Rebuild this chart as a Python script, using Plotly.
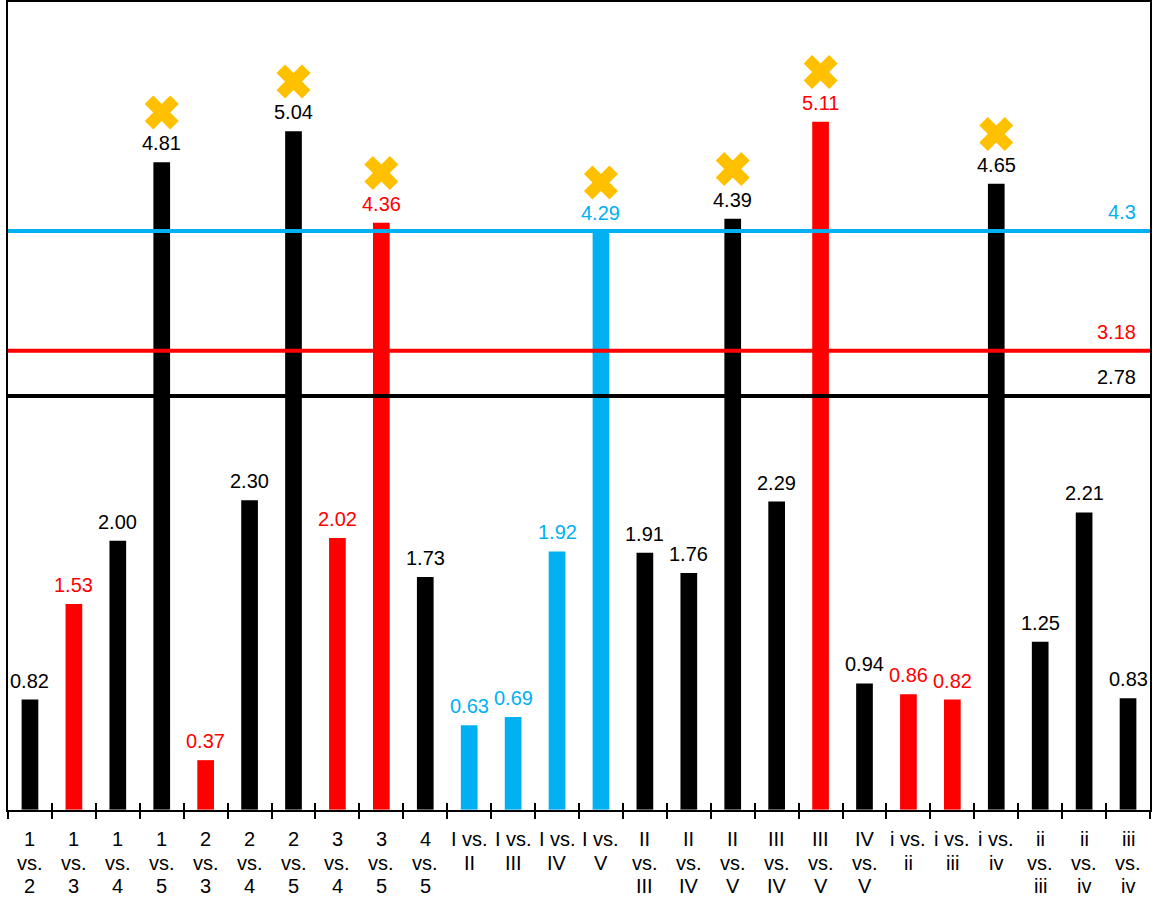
import plotly.graph_objects as go

categories = ["1<br>vs.<br>2", "1<br>vs.<br>3", "1<br>vs.<br>4", "1<br>vs.<br>5",
              "2<br>vs.<br>3", "2<br>vs.<br>4", "2<br>vs.<br>5", "3<br>vs.<br>4",
              "3<br>vs.<br>5", "4<br>vs.<br>5",
              "I vs.<br>II", "I vs.<br>III", "I vs.<br>IV", "I vs.<br>V",
              "II<br>vs.<br>III", "II<br>vs.<br>IV", "II<br>vs.<br>V", "III<br>vs.<br>IV",
              "III<br>vs.<br>V", "IV<br>vs.<br>V",
              "i vs.<br>ii", "i vs.<br>iii", "i vs.<br>iv",
              "ii<br>vs.<br>iii", "ii<br>vs.<br>iv", "iii<br>vs.<br>iv"]
values = [0.82, 1.53, 2.00, 4.81, 0.37, 2.30, 5.04, 2.02, 4.36, 1.73,
          0.63, 0.69, 1.92, 4.29,
          1.91, 1.76, 4.39, 2.29, 5.11, 0.94,
          0.86, 0.82, 4.65, 1.25, 2.21, 0.83]
groups = ["k", "r", "k", "k", "r", "k", "k", "r", "r", "k",
          "b", "b", "b", "b",
          "k", "k", "k", "k", "r", "k",
          "r", "r", "k", "k", "k", "k"]
flagged = [False, False, False, True, False, False, True, False, True, False,
           False, False, False, True,
           False, False, True, False, True, False,
           False, False, True, False, False, False]
threshold_labels = ["4.3", "3.18", "2.78"]
threshold_drawn_at = [4.30, 3.41, 3.075]
threshold_groups = ["b", "r", "k"]

palette = {"k": "#000000", "r": "#FF0000", "b": "#00B0F0"}
colors = [palette[g] for g in groups]
FONT = "Liberation Sans, Arial, sans-serif"

fig = go.Figure()
fig.add_trace(go.Bar(x=categories, y=values, marker=dict(color=colors, line=dict(width=0)),
                     width=0.38, showlegend=False, hoverinfo="x+y"))

fx = [c for c, f in zip(categories, flagged) if f]
fy = [v + 0.37 for v, f in zip(values, flagged) if f]
fig.add_trace(go.Scatter(x=fx, y=fy, mode="markers", showlegend=False,
                         marker=dict(symbol="x", size=30, color="#FFC000", line=dict(width=0))))

for c, v, col in zip(categories, values, colors):
    fig.add_annotation(x=c, y=v, text=f"{v:.2f}", showarrow=False, yanchor="bottom",
                       yshift=6, font=dict(size=20, color=col, family=FONT))

# category labels, one text row at a time (tight line spacing)
row_shift = [-29, -52.5, -76]
for c in categories:
    for i, part in enumerate(c.split("<br>")):
        fig.add_annotation(x=c, xref="x", y=0, yref="paper", text=part, showarrow=False,
                           yanchor="middle", yshift=row_shift[i],
                           font=dict(size=20, color="black", family=FONT))

for lab, yv, g in zip(threshold_labels, threshold_drawn_at, threshold_groups):
    fig.add_shape(type="line", xref="paper", x0=0, x1=1, yref="y", y0=yv, y1=yv,
                  line=dict(color=palette[g], width=4), layer="above")
    fig.add_annotation(xref="paper", x=0.9895, y=yv, text=lab, showarrow=False,
                       xanchor="right", yanchor="bottom", yshift=6,
                       font=dict(size=20, color=palette[g], family=FONT))

fig.update_layout(
    width=1153, height=902,
    margin=dict(l=8, r=3, t=2, b=92, autoexpand=False),
    plot_bgcolor="white", paper_bgcolor="white",
    barmode="overlay",
    font=dict(family=FONT, color="black"),
    xaxis=dict(type="category", showline=True, linecolor="black", linewidth=2, mirror=True,
               ticks="outside", ticklen=7, tickwidth=2, tickcolor="black", tickson="boundaries",
               tickangle=0, automargin=False, showticklabels=False,
               showgrid=False, zeroline=False),
    xaxis2=dict(type="category", overlaying="x", matches="x", anchor="y", side="bottom",
                showline=False, ticks="inside", ticklen=7, tickwidth=2, tickcolor="black",
                tickson="boundaries", showticklabels=False, showgrid=False, zeroline=False,
                automargin=False),
    yaxis=dict(range=[0, 6], showline=True, linecolor="black", linewidth=2, mirror=True,
               showticklabels=False, ticks="", showgrid=False, zeroline=False, automargin=False),
)
fig.add_trace(go.Bar(x=categories, y=[0] * len(categories), xaxis="x2", showlegend=False,
                     hoverinfo="skip", width=0.38, marker=dict(color="rgba(0,0,0,0)")))

fig.write_html("out.html", config={"displayModeBar": False},
               post_script="document.body.style.margin='0';document.body.style.overflow='hidden';")
